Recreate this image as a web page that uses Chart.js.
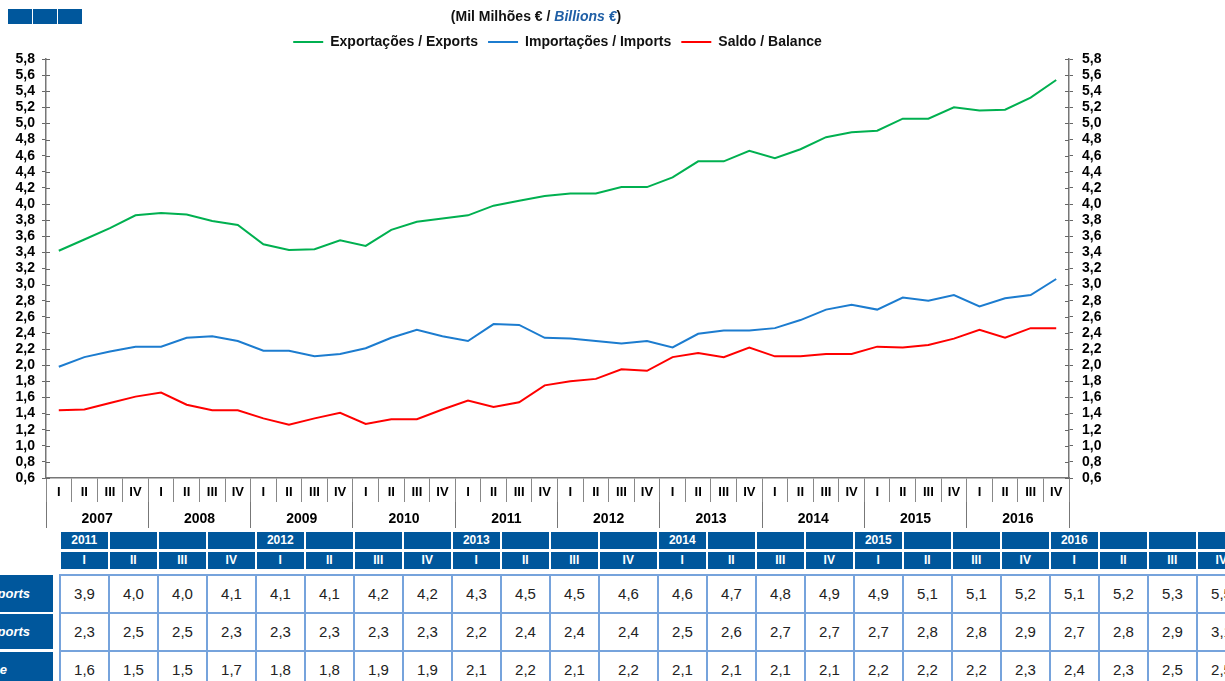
<!DOCTYPE html>
<html>
<head>
<meta charset="utf-8">
<script src="https://cdn.jsdelivr.net/npm/chart.js@4.4.0/dist/chart.umd.min.js"></script>
<style>
  body { margin: 0; width: 1225px; height: 681px; overflow: hidden; background: #fff; position: relative;
         font-family: "Liberation Sans", Arial, sans-serif; }
  #wrap { position: absolute; left: 0; top: 0; width: 1225px; height: 530px; }
  .sq { position: absolute; top: 9px; width: 24px; height: 15px; background: #00579c; }
  #title { position: absolute; top: 8px; left: 0; width: 1072px; text-align: center; font-weight: bold;
           font-size: 14px; color: #111; z-index: 2; }
  #title i { color: #1f5fa6; }
  #tbl { position: absolute; left: 0; top: 532px; width: 1225px; height: 149px; overflow: hidden; }
  .h { position: absolute; height: 17px; background: #00579c; color: #fff; font-weight: bold; font-size: 12px;
       line-height: 17px; text-align: center; }
  .lab { position: absolute; left: 0; width: 53px; background: #00579c; overflow: hidden; }
  .lab span { position: absolute; top: 0; color: #fff; font-weight: bold; font-style: italic; font-size: 13px;
              white-space: nowrap; }
  .grid { position: absolute; background: #76a3dc; }
  .c { position: absolute; background: #fff; color: #222; font-size: 15px; text-align: center; line-height: 36px; }
</style>
</head>
<body>
<div class="sq" style="left:8px"></div>
<div class="sq" style="left:33px"></div>
<div class="sq" style="left:58px"></div>
<div id="title">(Mil Milhões € / <i>Billions €</i>)</div>
<div id="wrap"><canvas id="chart"></canvas></div>
<div id="tbl"></div>
<script>
const years = ['2007', '2008', '2009', '2010', '2011', '2012', '2013', '2014', '2015', '2016'];
const quarters = ['I', 'II', 'III', 'IV'];
const seriesLabels = ['Exportações / Exports', 'Importações / Imports', 'Saldo / Balance'];

const exportsData = [3.42, 3.56, 3.70, 3.86, 3.89, 3.87, 3.79, 3.74, 3.50, 3.43,
                     3.44, 3.55, 3.48, 3.68, 3.78, 3.82, 3.86, 3.98, 4.04, 4.10,
                     4.13, 4.13, 4.21, 4.21, 4.33, 4.53, 4.53, 4.66, 4.57, 4.68,
                     4.83, 4.89, 4.91, 5.06, 5.06, 5.20, 5.16, 5.17, 5.32, 5.54];
const importsData = [1.98, 2.10, 2.17, 2.23, 2.23, 2.34, 2.36, 2.30, 2.18, 2.18,
                     2.11, 2.14, 2.21, 2.34, 2.44, 2.36, 2.30, 2.51, 2.50, 2.34,
                     2.33, 2.30, 2.27, 2.30, 2.22, 2.39, 2.43, 2.43, 2.46, 2.56,
                     2.69, 2.75, 2.69, 2.84, 2.80, 2.87, 2.73, 2.83, 2.87, 3.07];
const balanceData = [1.44, 1.45, 1.53, 1.61, 1.66, 1.51, 1.44, 1.44, 1.34, 1.26,
                     1.34, 1.41, 1.27, 1.33, 1.33, 1.45, 1.56, 1.48, 1.54, 1.75,
                     1.80, 1.83, 1.95, 1.93, 2.10, 2.15, 2.10, 2.22, 2.11, 2.11,
                     2.14, 2.14, 2.23, 2.22, 2.25, 2.33, 2.44, 2.34, 2.46, 2.46];

// table under the chart
const tableYears = ['2011', '2012', '2013', '2014', '2015', '2016'];
const rowLabels = ['Exports', 'Imports', 'Balance'];
const tableExports = [3.9, 4.0, 4.0, 4.1, 4.1, 4.1, 4.2, 4.2, 4.3, 4.5, 4.5, 4.6,
                      4.6, 4.7, 4.8, 4.9, 4.9, 5.1, 5.1, 5.2, 5.1, 5.2, 5.3, 5.5];
const tableImports = [2.3, 2.5, 2.5, 2.3, 2.3, 2.3, 2.3, 2.3, 2.2, 2.4, 2.4, 2.4,
                      2.5, 2.6, 2.7, 2.7, 2.7, 2.8, 2.8, 2.9, 2.7, 2.8, 2.9, 3.1];
const tableBalance = [1.6, 1.5, 1.5, 1.7, 1.8, 1.8, 1.9, 1.9, 2.1, 2.2, 2.1, 2.2,
                      2.1, 2.1, 2.1, 2.1, 2.2, 2.2, 2.2, 2.3, 2.4, 2.3, 2.5, 2.5];

const fmt = v => Number(v).toFixed(1).replace('.', ',');
Chart.defaults.font.family = '"Liberation Sans", Arial, sans-serif';

// half tick marks inside the plot, so the y ticks cross the axis line
const innerTicks = {
  id: 'innerTicks',
  afterDraw(chart) {
    const ctx = chart.ctx;
    ['y', 'y1'].forEach(id => {
      const s = chart.scales[id];
      const x = id === 'y' ? s.right : s.left;
      const dir = id === 'y' ? 1 : -1;
      ctx.save();
      ctx.strokeStyle = '#666';
      ctx.lineWidth = 1;
      s.ticks.forEach(t => {
        const py = Math.round(s.getPixelForValue(t.value)) + 0.5;
        ctx.beginPath();
        ctx.moveTo(x, py);
        ctx.lineTo(x + dir * 4, py);
        ctx.stroke();
      });
      ctx.restore();
    });
  }
};

function yAxis(pos) {
  return {
    position: pos,
    min: 0.6,
    max: 5.8,
    ticks: { stepSize: 0.2, autoSkip: false, color: '#000', font: { weight: 'bold', size: 14 },
             padding: pos === 'left' ? 7 : 9, callback: fmt },
    grid: { drawOnChartArea: false, tickLength: 4, color: '#666' },
    border: { color: '#777', width: 1.5 },
    afterFit: s => { s.width = pos === 'left' ? 46 : 156; }
  };
}

let line = (label, data, color) => ({
  label: label, data: data, borderColor: color, backgroundColor: color,
  borderWidth: 2, pointRadius: 0, tension: 0, xAxisID: 'x', yAxisID: 'y'
});

new Chart(document.getElementById('chart'), {
  type: 'line',
  data: {
    labels: years.flatMap(() => quarters),
    datasets: [
      line(seriesLabels[0], exportsData, '#00b050'),
      line(seriesLabels[1], importsData, '#1c7ccf'),
      line(seriesLabels[2], balanceData, '#ff0000')
    ]
  },
  options: {
    responsive: true,
    maintainAspectRatio: false,
    animation: false,
    layout: { padding: { top: 25, bottom: 2 } },
    plugins: {
      tooltip: { enabled: false },
      legend: {
        position: 'top',
        fullSize: false,
        labels: { usePointStyle: true, pointStyle: 'line', pointStyleWidth: 30, color: '#111',
                  font: { weight: 'bold', size: 14 }, padding: 10 }
      }
    },
    scales: {
      x: {
        type: 'category',
        offset: true,
        grid: { offset: true, drawOnChartArea: false, tickLength: 24, color: '#888' },
        border: { color: '#777', width: 1.5 },
        ticks: { autoSkip: false, maxRotation: 0, color: '#000', font: { weight: 'bold', size: 13 }, padding: -17 },
        afterFit: s => { s.height = 24; }
      },
      x2: {
        type: 'category',
        labels: years,
        offset: true,
        position: 'bottom',
        weight: 1,
        grid: { offset: true, drawOnChartArea: false, tickLength: 26, color: '#777' },
        border: { display: false },
        ticks: { autoSkip: false, maxRotation: 0, color: '#000', font: { weight: 'bold', size: 14 }, padding: -17 },
        afterFit: s => { s.height = 26; }
      },
      y: yAxis('left'),
      y1: yAxis('right')
    }
  },
  plugins: [innerTicks]
});

// build the table
const tbl = document.getElementById('tbl');
const colW = i => (i === 11 ? 59 : 49);
const colX = [];
let cx = 59;
for (let i = 0; i < tableExports.length; i++) { colX.push(cx); cx += colW(i); }

function add(cls, css, text) {
  const d = document.createElement('div');
  d.className = cls;
  Object.assign(d.style, css);
  if (text !== undefined) d.textContent = text;
  tbl.appendChild(d);
  return d;
}

colX.forEach((x, i) => {
  const yr = i % 4 === 0 ? tableYears[i / 4] : '';
  add('h', { left: (x + 2) + 'px', top: '0px', width: (colW(i) - 2.5) + 'px' }, yr);
  add('h', { left: (x + 2) + 'px', top: '20px', width: (colW(i) - 2.5) + 'px' }, quarters[i % 4]);
});

add('grid', { left: '59px', top: '42px', width: (cx - 59 + 2) + 'px', height: '120px' });
const rows = [tableExports, tableImports, tableBalance];
const labRight = [23, 23, 46];
const labTop = [43, 82, 120];
const labH = [37, 35, 36];
rows.forEach((vals, r) => {
  const cell = add('lab', { top: labTop[r] + 'px', height: labH[r] + 'px' });
  const sp = document.createElement('span');
  sp.textContent = rowLabels[r];
  sp.style.right = labRight[r] + 'px';
  sp.style.lineHeight = labH[r] + 'px';
  cell.appendChild(sp);
  vals.forEach((v, i) => {
    add('c', { left: (colX[i] + 2) + 'px', top: (44 + r * 38) + 'px', width: (colW(i) - 2) + 'px', height: '36px' }, fmt(v));
  });
});
</script>
</body>
</html>
